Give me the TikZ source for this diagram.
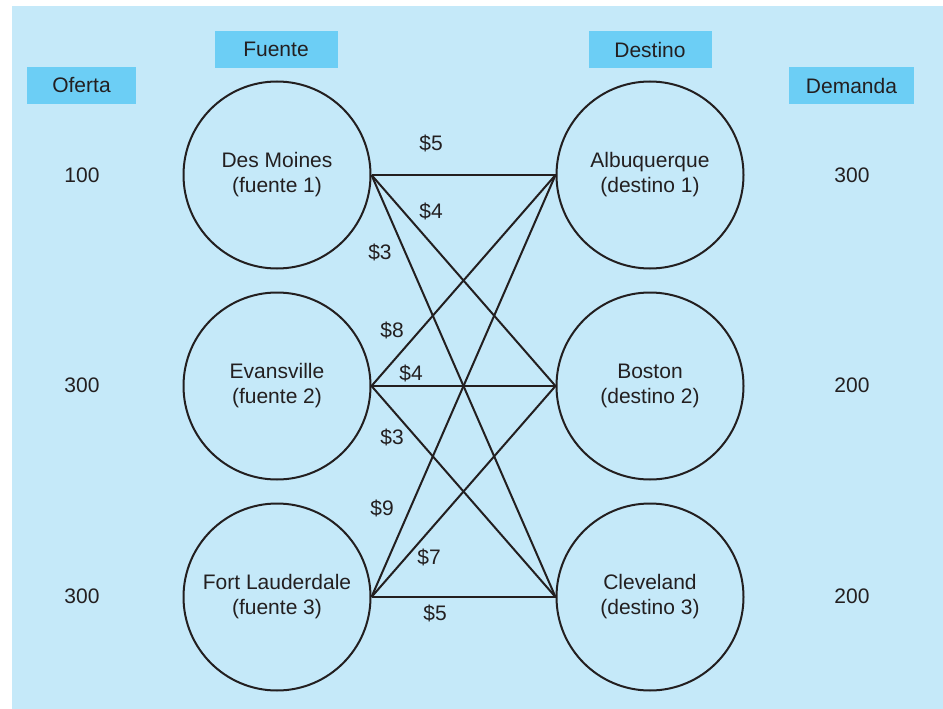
\documentclass[tikz,border=0pt]{standalone}
\usepackage{fontspec}
\setmainfont{Liberation Sans}
\definecolor{bgblue}{HTML}{C5E9F9}
\definecolor{boxblue}{HTML}{6CCEF5}
\definecolor{ink}{HTML}{231F20}
\begin{document}
\begin{tikzpicture}[x=1pt,y=-1pt,
  every node/.style={font=\fontsize{21}{25}\selectfont, text=ink},
  place/.style={circle, draw=ink, line width=2pt, minimum size=187pt, inner sep=0pt, align=center},
  headbox/.style={fill=boxblue, minimum width=123pt, minimum height=37pt, inner sep=0pt},
  link/.style={draw=ink, line width=2pt},
  cost/.style={inner sep=1pt}]
\useasboundingbox (0,0) rectangle (943,709);
\fill[white] (0,0) rectangle (943,709);
\fill[bgblue] (12,6) rectangle (943,709);
% headers
\node[headbox, minimum width=109pt] (hof) at (81.5,85.5) {Oferta};
\node[headbox] (hfu) at (276,49.5) {Fuente};
\node[headbox] (hde) at (650,49.5) {Destino};
\node[headbox, minimum width=125pt] (hdm) at (851.5,85.5) {Demanda};
% sources
\node[place] (s1) at (277,175) {Des Moines\\(fuente 1)};
\node[place] (s2) at (277,386) {Evansville\\(fuente 2)};
\node[place] (s3) at (277,597) {Fort Lauderdale\\(fuente 3)};
% destinations
\node[place] (d1) at (650,175) {Albuquerque\\(destino 1)};
\node[place] (d2) at (650,386) {Boston\\(destino 2)};
\node[place] (d3) at (650,597) {Cleveland\\(destino 3)};
% supply / demand
\node (o1) at (82,175) {100};
\node (o2) at (82,385) {300};
\node (o3) at (82,596) {300};
\node (m1) at (852,175) {300};
\node (m2) at (852,385) {200};
\node (m3) at (852,596) {200};
% links
\foreach \s in {1,2,3}{
  \foreach \d in {1,2,3}{
    \draw[link] (s\s.east) -- (d\d.west);
  }
}
% costs
\node[cost] (c11) at (431,143) {\$5};
\node[cost] (c12) at (431,211) {\$4};
\node[cost] (c13) at (380,252) {\$3};
\node[cost] (c21) at (392,330) {\$8};
\node[cost] (c22) at (411,373) {\$4};
\node[cost] (c23) at (392,437) {\$3};
\node[cost] (c31) at (382,508) {\$9};
\node[cost] (c32) at (429,557) {\$7};
\node[cost] (c33) at (435,613) {\$5};
\end{tikzpicture}
\end{document}
